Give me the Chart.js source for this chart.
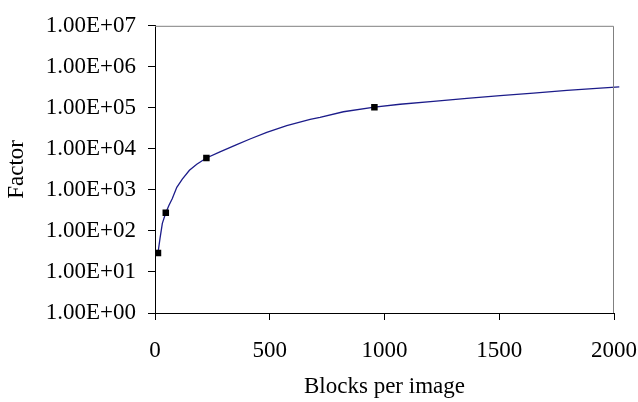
<!DOCTYPE html>
<html>
<head>
<meta charset="utf-8">
<script src="https://cdn.jsdelivr.net/npm/chart.js@4/dist/chart.umd.min.js"></script>
<style>
  html, body { margin: 0; padding: 0; background: #ffffff; }
  #chart { display: block; }
</style>
</head>
<body>
<canvas id="chart" width="638" height="402"></canvas>
<script>
// Curve: reduction factor as a function of the number of blocks per image
const curveBlocks = [13, 22, 32, 47, 61, 75, 95, 119, 150, 182, 224, 283, 356, 414, 487, 574, 676, 719, 821, 956, 1068, 1213, 1359, 1504, 1649, 1795, 1940, 2023];
const curveFactor = [29, 67, 153, 276, 422, 608, 1160, 1835, 3020, 4205, 5990, 8480, 12700, 17400, 25200, 37100, 52500, 58700, 80400, 103700, 122400, 144500, 170600, 197800, 229700, 265400, 302900, 325300];

// Measured points marked on the curve
const markerBlocks = [13, 47, 224, 956];
const markerFactor = [29, 276, 5990, 103700];

// Axis ticks
const xTickValues = [0, 500, 1000, 1500, 2000];
const yTickValues = [1, 10, 100, 1000, 10000, 100000, 1000000, 10000000];

const serif = "'Liberation Serif', 'Times New Roman', serif";
const fontSize = 23;

function toPoints(xs, ys) {
  return xs.map((x, i) => ({ x: x, y: ys[i] }));
}

function sci(v) {
  const e = Math.round(Math.log10(v));
  return '1.00E+' + String(e).padStart(2, '0');
}

// Grey frame on the top and right side of the plot area
const frame = {
  id: 'frame',
  afterDatasetsDraw(chart) {
    const { ctx, chartArea: a } = chart;
    ctx.save();
    ctx.strokeStyle = '#808080';
    ctx.lineWidth = 1;
    ctx.beginPath();
    ctx.moveTo(a.left, a.top + 0.5);
    ctx.lineTo(a.right - 0.5, a.top + 0.5);
    ctx.lineTo(a.right - 0.5, a.bottom);
    ctx.stroke();
    ctx.restore();
  }
};

new Chart(document.getElementById('chart'), {
  type: 'scatter',
  data: {
    datasets: [
      {
        data: toPoints(curveBlocks, curveFactor),
        showLine: true,
        borderColor: '#1c1c8a',
        borderWidth: 1.3,
        pointRadius: 0,
        tension: 0,
        clip: false,
        order: 2
      },
      {
        data: toPoints(markerBlocks, markerFactor),
        showLine: false,
        pointStyle: 'rect',
        pointRadius: 4.6,
        pointBackgroundColor: '#000000',
        pointBorderColor: '#000000',
        pointBorderWidth: 0,
        order: 1
      }
    ]
  },
  options: {
    responsive: false,
    animation: false,
    layout: { padding: { left: 0, top: 21, right: 24, bottom: 0 } },
    plugins: {
      legend: { display: false },
      tooltip: { enabled: false }
    },
    scales: {
      x: {
        type: 'linear',
        min: 0,
        max: 2000,
        afterBuildTicks(scale) {
          scale.ticks = xTickValues.map(v => ({ value: v }));
        },
        afterFit(scale) {
          scale.height = 89;
          scale.paddingLeft = 0;
          scale.paddingRight = 24;
        },
        border: { display: true, color: '#000000', width: 1 },
        grid: { drawOnChartArea: false, drawTicks: true, tickLength: 7, tickColor: '#000000', tickWidth: 1 },
        ticks: {
          color: '#000000',
          padding: 17,
          maxRotation: 0,
          font: { family: serif, size: fontSize },
          callback: (v) => String(v)
        },
        title: {
          display: true,
          text: 'Blocks per image',
          color: '#000000',
          font: { family: serif, size: fontSize, lineHeight: 1.2 },
          padding: { top: 0, bottom: 1.5 }
        }
      },
      y: {
        type: 'logarithmic',
        min: 1,
        max: 10000000,
        afterBuildTicks(scale) {
          scale.ticks = yTickValues.map(v => ({ value: v }));
        },
        afterFit(scale) { scale.width = 155; },
        border: { display: true, color: '#000000', width: 1 },
        grid: { drawOnChartArea: false, drawTicks: true, tickLength: 7, tickColor: '#000000', tickWidth: 1 },
        ticks: {
          color: '#000000',
          padding: 12,
          autoSkip: false,
          font: { family: serif, size: fontSize },
          callback: (v) => sci(v)
        },
        title: {
          display: true,
          text: 'Factor',
          color: '#000000',
          font: { family: serif, size: fontSize, lineHeight: 1.2 },
          padding: { top: 3.5, bottom: 0 }
        }
      }
    }
  },
  plugins: [frame]
});
</script>
</body>
</html>
